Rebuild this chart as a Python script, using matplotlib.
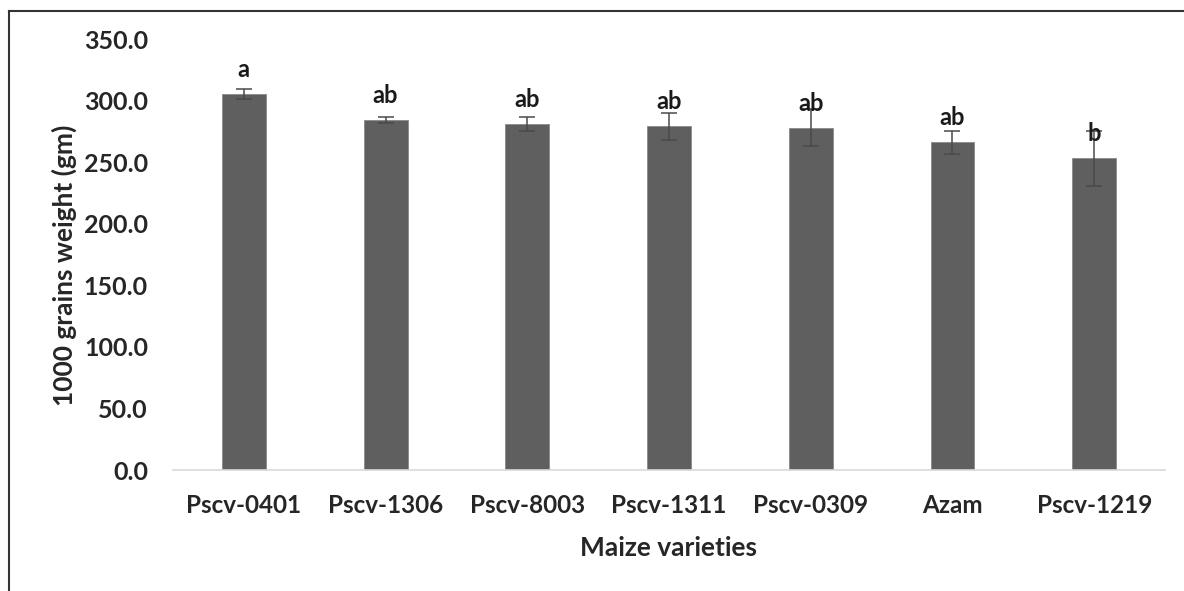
import matplotlib.pyplot as plt
from matplotlib.lines import Line2D

# data
varieties = ["Pscv-0401", "Pscv-1306", "Pscv-8003", "Pscv-1311", "Pscv-0309", "Azam", "Pscv-1219"]
grain_weight = [305.0, 284.0, 281.0, 279.0, 278.0, 266.0, 253.0]
std_err = [4.0, 2.5, 6.0, 11.0, 15.0, 9.0, 22.0]
letters = ["a", "ab", "ab", "ab", "ab", "ab", "b"]
yticks = [0, 50, 100, 150, 200, 250, 300, 350]

plt.rcParams['font.family'] = ['Lato', 'DejaVu Sans']
plt.rcParams['font.weight'] = 'bold'

fig = plt.figure(figsize=(11.84, 5.91), dpi=100)
ax = fig.add_axes([0.1461, 0.2047, 0.8379, 0.7293])

x = range(len(varieties))
ax.bar(x, grain_weight, width=0.31, color="#5f5f5f", edgecolor="#8a8a8a", linewidth=0.6,
       yerr=std_err, capsize=6, error_kw=dict(ecolor="#4a4a4a", elinewidth=1.1, capthick=1.1),
       zorder=2)

for i, (v, l) in enumerate(zip(grain_weight, letters)):
    ax.text(i, v + 20, l, ha="center", va="center", fontsize=17, fontweight="bold", color="#1a1a1a")

ax.set_xlim(-0.5, len(varieties) - 0.5)
ax.set_ylim(0, 350)
ax.set_yticks(yticks)
ax.set_yticklabels([f"{t:.1f}" for t in yticks])
ax.set_xticks(list(x))
ax.set_xticklabels(varieties)
ax.tick_params(axis="y", length=0, pad=18, labelsize=18, labelcolor="#262626")
ax.tick_params(axis="x", length=0, pad=17, labelsize=17.5, labelcolor="#262626")

for s in ["top", "right", "left"]:
    ax.spines[s].set_visible(False)
ax.spines["bottom"].set_color("#d9d9d9")
ax.spines["bottom"].set_linewidth(1.2)

fig.text(669 / 1184, 1 - 548 / 591, "Maize varieties", ha="center", va="center",
         fontsize=19, fontweight="bold", color="#262626")
fig.text(64 / 1184, 1 - 265 / 591, "1000 grains weight (gm)", ha="center", va="center",
         rotation=90, fontsize=19, fontweight="bold", color="#262626")

# outer frame (only left and top visible in the original crop)
fig.add_artist(Line2D([9 / 1184, 9 / 1184], [0, 1 - 11 / 591], transform=fig.transFigure,
                      color="#333333", linewidth=1.5))
fig.add_artist(Line2D([9 / 1184, 1], [1 - 11 / 591, 1 - 11 / 591], transform=fig.transFigure,
                      color="#333333", linewidth=1.5))

fig.savefig("out.png", dpi=100)
